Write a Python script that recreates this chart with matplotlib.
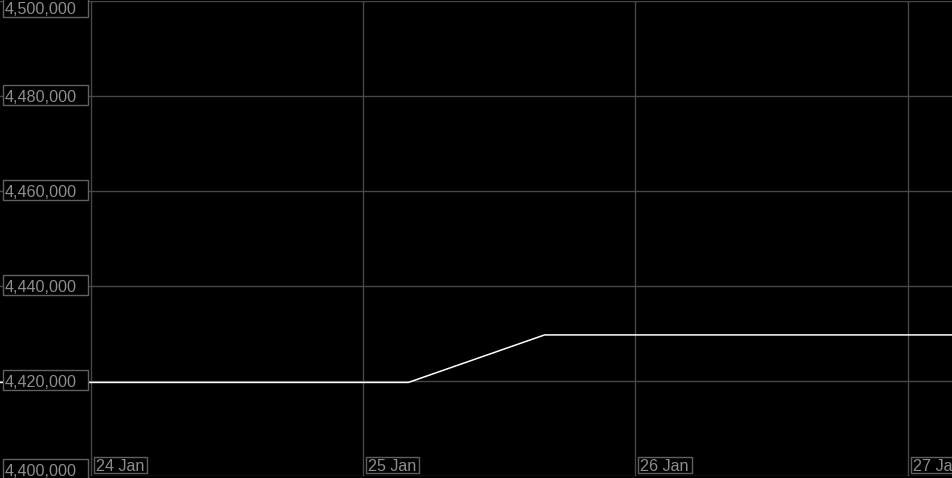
import matplotlib
matplotlib.use("Agg")
from datetime import datetime
import matplotlib.pyplot as plt
from matplotlib.patches import Rectangle
from matplotlib.transforms import IdentityTransform

# series: timestamps and values
times = [datetime(2024, 1, 23, 16, 0), datetime(2024, 1, 25, 4, 0),
         datetime(2024, 1, 25, 16, 0), datetime(2024, 1, 27, 4, 0)]
values = [4419700, 4419700, 4429700, 4429700]

x_ticks = [datetime(2024, 1, 24), datetime(2024, 1, 25),
           datetime(2024, 1, 26), datetime(2024, 1, 27)]
x_labels = ["24 Jan", "25 Jan", "26 Jan", "27 Jan"]
y_ticks = [4400000, 4420000, 4440000, 4460000, 4480000, 4500000]

GRID = "#474747"
TXT = "#8e8e8e"
BOX = "#606060"
FS = 11.6

plt.rcParams["font.family"] = ["Liberation Sans", "DejaVu Sans"]

fig = plt.figure(figsize=(9.53, 4.78), dpi=100, facecolor="black")
ax = fig.add_axes([0, 2 / 478, 1, 475 / 478])
ax.set_facecolor("black")

ax.plot(times, values, color="white", lw=1.1, zorder=3)

ax.set_xlim(times[0], times[-1])
ax.set_ylim(y_ticks[0], y_ticks[-1])
ax.set_xticks(x_ticks)
ax.set_yticks(y_ticks)
ax.tick_params(length=0, labelbottom=False, labelleft=False)
ax.grid(True, color=GRID, lw=1)
for s in ax.spines.values():
    s.set_visible(False)

# date labels sit inside the plot, just right of each gridline
xlabs = []
for t, lab in zip(x_ticks, x_labels):
    xlabs.append(ax.annotate(lab, xy=(t, 0), xycoords=("data", "axes fraction"),
                             xytext=(5, 5), textcoords="offset pixels",
                             ha="left", va="baseline", color=TXT, fontsize=FS,
                             zorder=6, annotation_clip=False))

# value labels at the left edge, over the gridlines
ylabs = []
for i, v in enumerate(y_ticks):
    dy = -5.8
    if i == 0:
        dy = 0
    elif i == len(y_ticks) - 1:
        dy = -13
    ylabs.append(ax.annotate(f"{v:,}", xy=(5, v), xycoords=("figure pixels", "data"),
                             xytext=(0, dy), textcoords="offset pixels",
                             ha="left", va="baseline", color=TXT, fontsize=FS,
                             zorder=6, annotation_clip=False))

fig.canvas.draw()
r = fig.canvas.get_renderer()
for t in xlabs:
    bb = t.get_window_extent(r)
    ax.add_patch(Rectangle((bb.x0 - 2, bb.y0 + 1.3), bb.width + 5, bb.height + 0.7,
                           transform=IdentityTransform(), fc="black", ec=BOX,
                           lw=1, zorder=5, clip_on=False))
for t in ylabs:
    bb = t.get_window_extent(r)
    ax.add_patch(Rectangle((3, bb.y0 + 0.3), 84.5, bb.height + 4.7,
                           transform=IdentityTransform(), fc="black", ec=BOX,
                           lw=1, zorder=5, clip_on=False))

fig.savefig("out.png", dpi=100, facecolor="black")
